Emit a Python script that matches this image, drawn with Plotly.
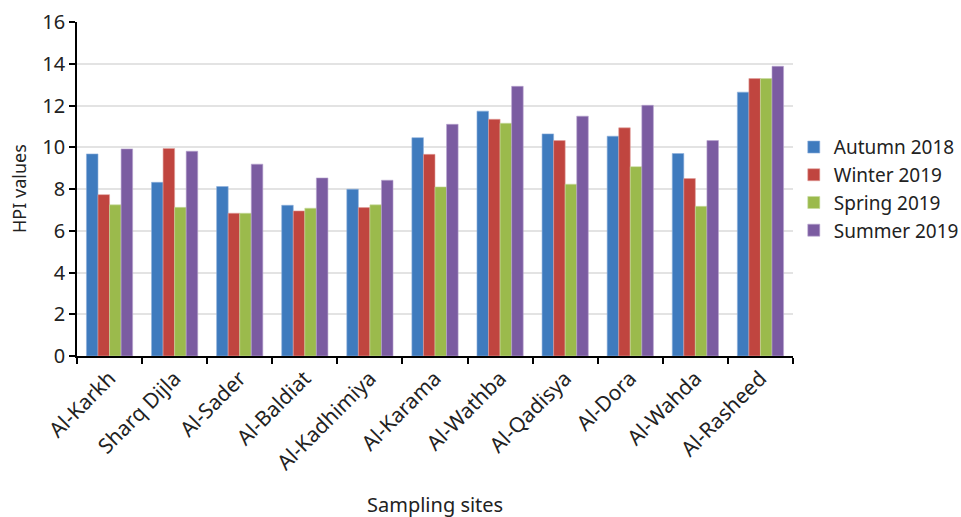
import plotly.graph_objects as go

sites = ["Al-Karkh", "Sharq Dijla", "Al-Sader", "Al-Baldiat", "Al-Kadhimiya",
         "Al-Karama", "Al-Wathba", "Al-Qadisya", "Al-Dora", "Al-Wahda", "Al-Rasheed"]

autumn_2018 = [9.68, 8.32, 8.12, 7.22, 7.99, 10.46, 11.73, 10.64, 10.53, 9.70, 12.64]
winter_2019 = [7.73, 9.94, 6.84, 6.95, 7.11, 9.66, 11.34, 10.32, 10.93, 8.50, 13.29]
spring_2019 = [7.24, 7.12, 6.84, 7.08, 7.24, 8.10, 11.15, 8.23, 9.07, 7.17, 13.29]
summer_2019 = [9.92, 9.81, 9.19, 8.53, 8.42, 11.10, 12.92, 11.49, 12.01, 10.32, 13.88]

series = [
    ("Autumn 2018", autumn_2018, "#3f7bbe", "#8fb0dc"),
    ("Winter 2019", winter_2019, "#c0453f", "#e0a09c"),
    ("Spring 2019", spring_2019, "#9bba4c", "#c8dca0"),
    ("Summer 2019", summer_2019, "#7b5ca1", "#b8a5d0"),
]

font_family = "Noto Sans, Open Sans, sans-serif"
text_color = "#222222"

fig = go.Figure()
for name, vals, color, edge in series:
    fig.add_trace(go.Bar(
        x=sites, y=vals, name=name,
        marker=dict(color=color, line=dict(color=edge, width=0.6)),
    ))

fig.update_layout(
    width=961, height=517,
    margin=dict(l=77, r=168, t=22, b=161),
    plot_bgcolor="white", paper_bgcolor="white",
    barmode="group", bargap=0.29, bargroupgap=0,
    font=dict(family=font_family, size=18, color=text_color),
    legend=dict(xref="container", yref="container",
                x=0.826, y=0.635, xanchor="left", yanchor="middle",
                font=dict(size=19), tracegroupgap=0, itemwidth=30),
    showlegend=True,
    annotations=[
        dict(text="Sampling sites", xref="paper", yref="paper",
             x=0.5, y=-0.445, xanchor="center", yanchor="middle",
             showarrow=False, font=dict(size=20)),
        dict(text="HPI values", xref="paper", yref="paper",
             x=-0.081, y=0.5, xanchor="center", yanchor="middle",
             textangle=-90, showarrow=False, font=dict(size=18)),
    ],
)

fig.update_xaxes(
    automargin=False,
    showline=True, linecolor="black", linewidth=1.5,
    ticks="outside", ticklen=6, tickcolor="black", tickwidth=1.5,
    tickson="boundaries", tickangle=-45,
    tickfont=dict(size=21),
)
fig.update_yaxes(
    automargin=False,
    range=[0, 16], dtick=2,
    showline=True, linecolor="black", linewidth=1.5,
    ticks="outside", ticklen=6, tickcolor="black", tickwidth=1.5,
    showgrid=True, gridcolor="#e3e3e3", gridwidth=1.5,
    zeroline=False,
    tickfont=dict(size=20),
)

fig.write_html("out.html")
